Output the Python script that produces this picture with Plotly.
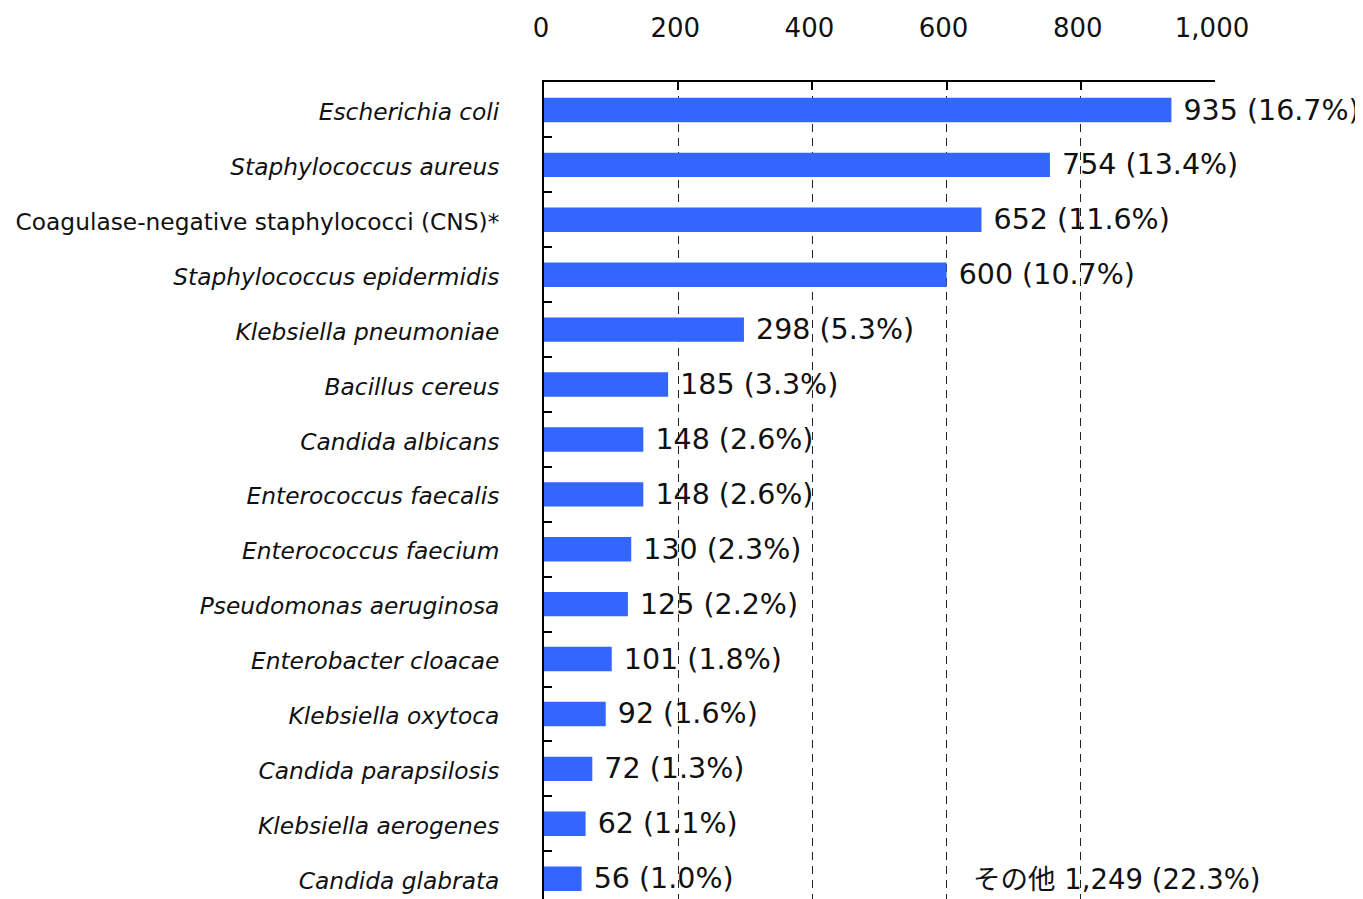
import plotly.graph_objects as go

categories = [
    "Escherichia coli",
    "Staphylococcus aureus",
    "Coagulase-negative staphylococci (CNS)*",
    "Staphylococcus epidermidis",
    "Klebsiella pneumoniae",
    "Bacillus cereus",
    "Candida albicans",
    "Enterococcus faecalis",
    "Enterococcus faecium",
    "Pseudomonas aeruginosa",
    "Enterobacter cloacae",
    "Klebsiella oxytoca",
    "Candida parapsilosis",
    "Klebsiella aerogenes",
    "Candida glabrata",
]
counts = [935, 754, 652, 600, 298, 185, 148, 148, 130, 125, 101, 92, 72, 62, 56]
percents = [16.7, 13.4, 11.6, 10.7, 5.3, 3.3, 2.6, 2.6, 2.3, 2.2, 1.8, 1.6, 1.3, 1.1, 1.0]
italic = [True, True, False, True, True, True, True, True, True, True, True, True, True, True, True]
other_label = "その他"
other_count = 1249
other_percent = 22.3
x_ticks = [0, 200, 400, 600, 800, 1000]

tick_text = [f"<i>{c}</i>" if it else c for c, it in zip(categories, italic)]
bar_text = [f" {v} ({p:.1f}%)" for v, p in zip(counts, percents)]

FONT = "DejaVu Sans, Verdana, Noto Sans CJK JP, sans-serif"

fig = go.Figure(
    go.Bar(
        x=counts,
        y=categories,
        orientation="h",
        marker=dict(color="#3366FF", line=dict(width=0)),
        width=0.445,
        text=bar_text,
        textposition="outside",
        constraintext="none",
        cliponaxis=False,
        textfont=dict(size=28.5, color="#111111", family=FONT),
        hoverinfo="skip",
    )
)

fig.add_annotation(
    x=636,
    y=categories[-1],
    xref="x",
    yref="y",
    xanchor="left",
    yanchor="middle",
    text=f"{other_label} {other_count:,} ({other_percent:.1f}%)",
    showarrow=False,
    font=dict(size=27.5, color="#111111", family=FONT),
)

# page body has an 8px margin; compensate so the chart sits where the reference does
fig.update_layout(
    width=1355,
    height=891,
    margin=dict(l=536, r=147.5, t=74, b=0, pad=0, autoexpand=False),
    plot_bgcolor="white",
    paper_bgcolor="white",
    showlegend=False,
    font=dict(family=FONT, color="#111111"),
)

fig.update_xaxes(
    side="top",
    range=[0, 1000],
    automargin=False,
    tickmode="array",
    tickvals=x_ticks,
    ticktext=[f"{t:,}" for t in x_ticks],
    tickfont=dict(size=26, color="#111111"),
    ticks="inside",
    ticklen=8,
    tickwidth=2,
    tickcolor="black",
    ticklabelstandoff=33,
    ticklabelshift=-3,
    showline=True,
    linecolor="black",
    linewidth=2,
    mirror=False,
    showgrid=True,
    gridcolor="#222222",
    gridwidth=1,
    griddash="8px,6px",
    zeroline=False,
)

fig.update_yaxes(
    type="category",
    categoryorder="array",
    categoryarray=categories,
    range=[14.37, -0.51],
    automargin=False,
    tickmode="array",
    tickvals=categories,
    ticktext=tick_text,
    tickson="boundaries",
    ticks="inside",
    ticklen=8,
    tickwidth=2,
    tickcolor="black",
    tickfont=dict(size=23.3, color="#111111"),
    ticklabelstandoff=38,
    ticklabelshift=-2,
    showline=True,
    linecolor="black",
    linewidth=2,
    showgrid=False,
    zeroline=False,
)

fig.write_html("out.html")
